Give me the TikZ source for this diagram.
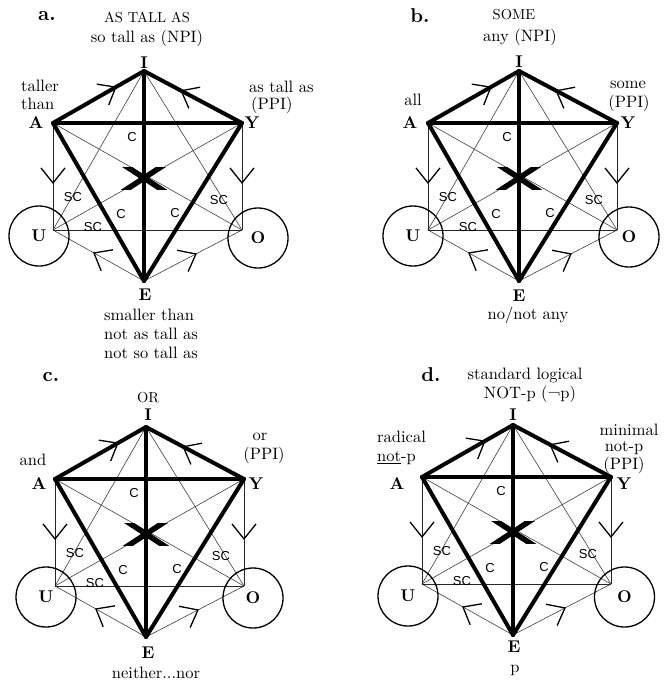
\documentclass[tikz,border=0pt]{standalone}
\usepackage{fontspec}
\setmainfont{lmroman10-regular.otf}[BoldFont=lmroman10-bold.otf, ItalicFont=lmroman10-italic.otf]
\newfontfamily\hvfont{Liberation Sans}
\usetikzlibrary{decorations.markings}
\tikzset{
 thinln/.style={draw=black!75, line width=0.6pt},
 rimln/.style={draw=black!85, line width=1pt},
 thickln/.style={draw=black, line width=4pt, line cap=round, line join=round},
 arrmk/.style={draw=black, line width=1.3pt, line cap=butt},
 vtx/.style={font=\fontsize{17}{20}\selectfont\bfseries, inner sep=0pt},
 txt/.style={font=\fontsize{16.5}{19}\selectfont, inner sep=0pt},
 caps/.style={font=\fontsize{14.5}{16}\selectfont, inner sep=0pt},
 plabel/.style={font=\fontsize{20}{24}\selectfont\bfseries, inner sep=0pt},
 sclab/.style={font=\hvfont\fontsize{13}{15}\selectfont, inner sep=0pt},
 ring/.style={circle, draw, line width=1.3pt, minimum size=60pt, inner sep=0pt, font=\fontsize{17}{20}\selectfont\bfseries},
 xmk/.style={draw=black, line width=5.5pt, line cap=butt},
 vmark/.style={postaction={decorate}, decoration={markings, mark=at position #1 with {\draw[arrmk] (-15pt,12pt) -- (0pt,0pt) -- (-15pt,-12pt);}}},
}
\newcommand\hexpanel[7]{%
\begin{scope}[shift={(#2,#3)}]
\coordinate (#1A) at (0,0);
\coordinate (#1I) at (91,-52);
\coordinate (#1Y) at (189,0);
\coordinate (#1U) at (0,107);
\coordinate (#1O) at (189,107);
\coordinate (#1E) at (91,158);
\coordinate (#1X) at (91,55);
\draw[thinln] (#1I) -- (#1U);
\draw[thinln] (#1I) -- (#1O);
\draw[thinln] (#1A) -- (#1O);
\draw[thinln] (#1Y) -- (#1U);
\draw[thinln, vmark=0.55] (#1E) -- (#1U);
\draw[thinln, vmark=0.53] (#1E) -- (#1O);
\draw[rimln, vmark=0.56] (#1A) -- (#1U);
\draw[rimln, vmark=0.56] (#1Y) -- (#1O);
\draw[rimln] (#1U) -- (#1O);
\draw[thickln, vmark=0.69] (#1A) -- (#1I);
\draw[thickln, vmark=0.62] (#1Y) -- (#1I);
\draw[thickln] (#1A) -- (#1Y);
\draw[thickln] (#1I) -- (#1E);
\draw[thickln] (#1A) -- (#1E);
\draw[thickln] (#1Y) -- (#1E);
\begin{scope}
\clip ([shift={(-30,-11)}]#1X) rectangle ([shift={(30,11)}]#1X);
\draw[xmk] ([shift={(-23,-15)}]#1X) -- ([shift={(23,15)}]#1X);
\draw[xmk] ([shift={(-23,15)}]#1X) -- ([shift={(23,-15)}]#1X);
\end{scope}
\node[ring] (#1Uc) at (#4,#5) {U};
\node[ring] (#1Oc) at (#6,#7) {O};
\node[sclab] (#1c1) at (79,14) {C};
\node[sclab] (#1s1) at (20,74) {SC};
\node[sclab] (#1s2) at (40,104) {SC};
\node[sclab] (#1s3) at (166,77) {SC};
\node[sclab] (#1c2) at (68,91) {C};
\node[sclab] (#1c3) at (122,90) {C};
\end{scope}}
\begin{document}
\begin{tikzpicture}[x=1pt,y=-1pt]
\useasboundingbox (0,0) rectangle (664,683);
% panel a
\hexpanel{a}{53}{123}{-14}{113}{205}{115}
\node[plabel] (alab) at (47,16) {a.};
\node[caps] (atop1) at (147,17) {AS TALL AS};
\node[txt] (atop2) at (147,38) {so tall as (NPI)};
\node[vtx] (aIl) at (144,63) {I};
\node[txt, anchor=west] (aAt1) at (21,86) {taller};
\node[txt, anchor=west] (aAt2) at (21,104) {than};
\node[vtx] (aAl) at (36,123) {A};
\node[txt, anchor=west] (aYt1) at (249,87) {as tall as};
\node[txt, anchor=west] (aYt2) at (251,105) {(PPI)};
\node[vtx] (aYl) at (252,123) {Y};
\node[vtx] (aEl) at (145,295) {E};
\node[txt, align=left] (aEt) at (151,334) {smaller than\\not as tall as\\not so tall as};
% panel b
\hexpanel{b}{428}{123}{-15}{113}{201}{114}
\node[plabel] (blab) at (420,16) {b.};
\node[caps] (btop1) at (514,15) {SOME};
\node[txt] (btop2) at (520,37) {any (NPI)};
\node[vtx] (bIl) at (519,62) {I};
\node[txt] (bAt) at (413,100) {all};
\node[vtx] (bAl) at (410,123) {A};
\node[txt] (bYt1) at (628,85) {some};
\node[txt] (bYt2) at (629,103) {(PPI)};
\node[vtx] (bYl) at (628,123) {Y};
\node[vtx] (bEl) at (519,296) {E};
\node[txt] (bEt) at (528,315) {no/not any};
% panel c
\hexpanel{c}{55}{479}{-9}{118}{198}{119}
\node[plabel] (clab) at (51,377) {c.};
\node[caps] (ctop1) at (148,398) {OR};
\node[vtx] (cIl) at (148,415) {I};
\node[txt] (cAt) at (33,460) {and};
\node[vtx] (cAl) at (39,484) {A};
\node[txt] (cYt1) at (260,437) {or};
\node[txt] (cYt2) at (264,455) {(PPI)};
\node[vtx] (cYl) at (256,484) {Y};
\node[vtx] (cEl) at (148,653) {E};
\node[txt] (cEt) at (156,673) {neither...nor};
% panel d
\hexpanel{d}{422}{477}{-14}{119}{202.5}{120}
\node[plabel] (dlab) at (431,375) {d.};
\node[txt] (dtop1) at (525,375) {standard logical};
\node[txt] (dtop2) at (530,394) {NOT-p (¬p)};
\node[vtx] (dIl) at (513,415) {I};
\node[txt, anchor=west, align=left] (dAt) at (377,448) {radical\\\underline{not}-p};
\node[vtx] (dAl) at (397,484) {A};
\node[txt] (dYt1) at (629,430) {minimal};
\node[txt] (dYt2) at (624,448) {not-p};
\node[txt] (dYt3) at (624,465) {(PPI)};
\node[vtx] (dYl) at (624,484) {Y};
\node[vtx] (dEl) at (514,647) {E};
\node[txt] (dEt) at (515,670) {p};
\end{tikzpicture}
\end{document}
